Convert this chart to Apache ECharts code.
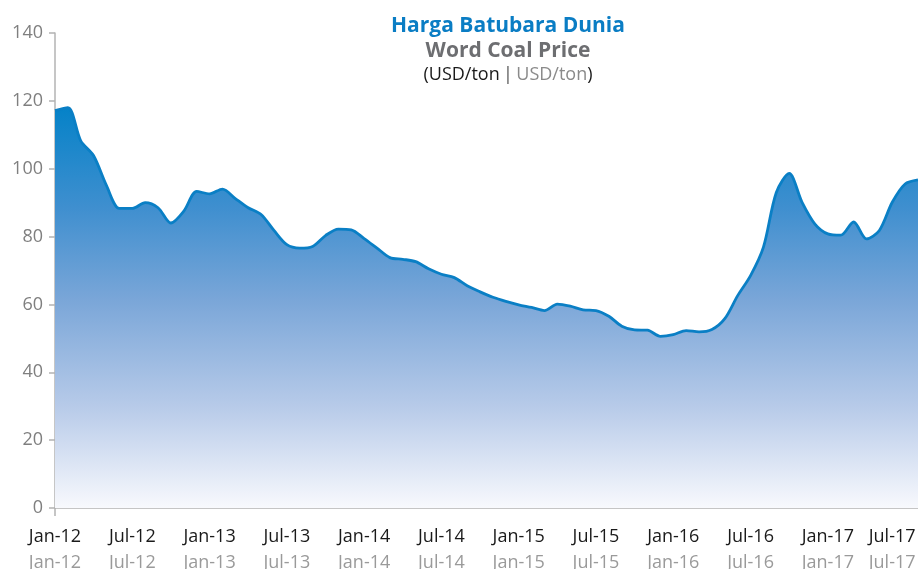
<!DOCTYPE html>
<html>
<head>
<meta charset="utf-8">
<script src="https://cdn.jsdelivr.net/npm/echarts@6/dist/echarts.min.js"></script>
<style>
  html, body { margin: 0; padding: 0; background: #fff; }
  #chart { width: 918px; height: 569px; }
</style>
</head>
<body>
<div id="chart"></div>
<script>
// monthly categories Jan-12 .. Aug-17
const monthNames = ["Jan", "Feb", "Mar", "Apr", "May", "Jun", "Jul", "Aug", "Sep", "Oct", "Nov", "Dec"]
const years = ["12", "13", "14", "15", "16", "17"]
const lastMonthIndex = 7 // Aug-17

const categories = []
years.forEach((y, yi) => {
  monthNames.forEach((m, mi) => {
    if (yi === years.length - 1 && mi > lastMonthIndex) return
    categories.push(`${m}-${y}`)
  })
})

// coal price, USD/ton
const coalPrice = [
  117.1, 118.0, 108.2, 103.8, 95.0, 88.3, 88.3, 90.0, 88.5, 84.0, 87.5, 93.3,
  92.6, 94.0, 91.2, 88.5, 86.5, 81.8, 77.6, 76.6, 77.1, 80.3, 82.2, 82.0,
  79.4, 76.6, 73.8, 73.3, 72.6, 70.5, 68.9, 67.9, 65.5, 63.7, 62.1, 60.9,
  59.9, 59.1, 58.2, 60.1, 59.5, 58.4, 58.2, 56.5, 53.6, 52.5, 52.4, 50.6,
  51.1, 52.3, 51.9, 52.6, 55.8, 62.6, 68.5, 76.9, 93.0, 98.6, 90.1, 83.7,
  80.8, 80.4, 84.3, 79.3, 81.8, 90.1, 95.5, 96.7
]

const yTicks = { min: 0, max: 140, step: 20 }

const chart = echarts.init(document.getElementById("chart"), null, { renderer: "canvas" })

const font = "'Open Sans', 'Noto Sans', sans-serif"
const lastLabel = "Jul-17"

const option = {
  animation: false,
  backgroundColor: "#ffffff",
  textStyle: { fontFamily: font },
  graphic: [
    {
      type: "text",
      x: 508,
      y: 26,
      style: {
        text: "Harga Batubara Dunia",
        fill: "#0a7dc4",
        font: `bold 21px ${font}`,
        align: "center",
        verticalAlign: "middle"
      }
    },
    {
      type: "text",
      x: 508,
      y: 51,
      style: {
        text: "Word Coal Price",
        fill: "#6d6e71",
        font: `bold 21px ${font}`,
        align: "center",
        verticalAlign: "middle"
      }
    },
    {
      type: "text",
      x: 508,
      y: 75,
      style: {
        text: "{a|(USD/ton} {s||} {b|USD/ton}{a|)}",
        align: "center",
        verticalAlign: "middle",
        rich: {
          a: { fill: "#1a1a1a", fontSize: 18, fontFamily: font },
          s: { fill: "#555555", fontSize: 18, fontFamily: font },
          b: { fill: "#8a8a8a", fontSize: 18, fontFamily: font }
        }
      }
    }
  ],
  grid: {
    left: 55,
    right: 0,
    top: 33,
    bottom: 61,
    outerBoundsMode: "none"
  },
  xAxis: {
    type: "category",
    data: categories,
    boundaryGap: false,
    axisLine: { show: true, lineStyle: { color: "#b3b3b3", width: 1.5 } },
    axisTick: {
      show: true,
      interval: i => i === 0,
      length: 8,
      lineStyle: { color: "#b3b3b3", width: 1.5 }
    },
    axisLabel: {
      interval: i => i % 6 === 0,
      margin: 16,
      // keep the last label inside the picture
      formatter: v => (v === lastLabel ? `{c|${v}}\n{d|${v}}` : `{a|${v}}\n{b|${v}}`),
      rich: {
        a: { color: "#1a1a1a", fontSize: 18, lineHeight: 26, fontFamily: font },
        b: { color: "#9a9a9a", fontSize: 18, lineHeight: 26, fontFamily: font },
        c: { color: "#1a1a1a", fontSize: 18, lineHeight: 26, fontFamily: font, padding: [0, 26, 0, 0] },
        d: { color: "#9a9a9a", fontSize: 18, lineHeight: 26, fontFamily: font, padding: [0, 26, 0, 0] }
      }
    },
    splitLine: { show: false }
  },
  yAxis: {
    type: "value",
    min: yTicks.min,
    max: yTicks.max,
    interval: yTicks.step,
    axisLine: { show: true, lineStyle: { color: "#b3b3b3", width: 1.5 } },
    axisTick: { show: true, length: 6, lineStyle: { color: "#b3b3b3", width: 1.5 } },
    axisLabel: { color: "#7f7f7f", fontSize: 18, margin: 12, fontFamily: font },
    splitLine: { show: false }
  },
  series: [
    {
      name: "Coal Price",
      type: "line",
      data: coalPrice,
      smooth: 0.3,
      symbol: "none",
      lineStyle: { color: "#0a7fc5", width: 2.8 },
      areaStyle: {
        opacity: 1,
        color: new echarts.graphic.LinearGradient(0, 0, 0, 1, [
          { offset: 0, color: "#0582c8" },
          { offset: 0.25, color: "#3f8fcf" },
          { offset: 0.48, color: "#7aa6d8" },
          { offset: 0.75, color: "#b8cbe9" },
          { offset: 1, color: "#f8f9fd" }
        ])
      }
    }
  ]
}

chart.setOption(option)
window.addEventListener("resize", () => chart.resize())
</script>
</body>
</html>
